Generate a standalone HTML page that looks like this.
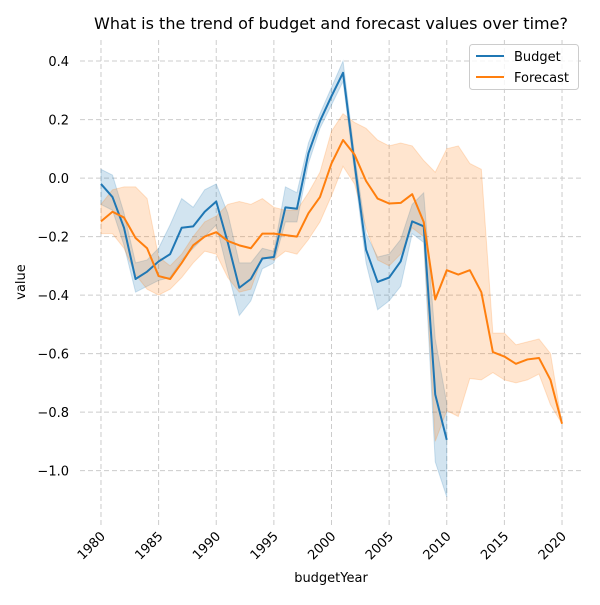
<!DOCTYPE html>
<html><head><meta charset="utf-8"><style>
body{margin:0;background:#fff;font-family:"Liberation Sans","DejaVu Sans",sans-serif}
svg text{font-family:"DejaVu Sans","Liberation Sans",sans-serif}
</style></head><body>
<svg id="chart" width="600" height="600">
<text x="331" y="29" text-anchor="middle" font-size="16" fill="#000">What is the trend of budget and forecast values over time?</text>
<g id="grid"></g><g id="bands"></g><g id="lines"></g><g id="axes"></g>
<text x="331" y="582" text-anchor="middle" font-size="13">budgetYear</text>
<text transform="translate(25,282) rotate(-90)" text-anchor="middle" font-size="13">value</text>
<g>
<rect x="469.5" y="44.5" width="109" height="45" rx="3" fill="#fff" fill-opacity="0.8" stroke="#ccc"/>
<line x1="476" y1="56" x2="504" y2="56" stroke="#1f77b4" stroke-width="2"/>
<text x="514" y="61" font-size="13">Budget</text>
<line x1="476" y1="77" x2="504" y2="77" stroke="#ff7f0e" stroke-width="2"/>
<text x="514" y="82" font-size="13">Forecast</text>
</g>
</svg>
<script>
const budgetYears=[1980,1981,1982,1983,1984,1985,1986,1987,1988,1989,1990,1991,1992,1993,1994,1995,1996,1997,1998,1999,2000,2001,2002,2003,2004,2005,2006,2007,2008,2009,2010];
const budgetValues=[-0.02,-0.065,-0.17,-0.345,-0.32,-0.285,-0.26,-0.17,-0.165,-0.115,-0.08,-0.22,-0.375,-0.345,-0.275,-0.27,-0.1,-0.105,0.085,0.195,0.28,0.36,0.05,-0.245,-0.355,-0.34,-0.285,-0.148,-0.165,-0.74,-0.895];
const budgetUpper=[0.03,0.01,-0.12,-0.29,-0.28,-0.24,-0.16,-0.07,-0.1,-0.04,-0.02,-0.12,-0.29,-0.29,-0.24,-0.25,-0.03,-0.05,0.12,0.22,0.31,0.40,0.08,-0.19,-0.27,-0.26,-0.21,-0.09,-0.05,-0.55,-0.77];
const budgetLower=[-0.09,-0.11,-0.23,-0.39,-0.37,-0.35,-0.34,-0.28,-0.24,-0.2,-0.16,-0.32,-0.47,-0.42,-0.31,-0.29,-0.15,-0.15,0.05,0.17,0.25,0.33,0.02,-0.29,-0.45,-0.42,-0.37,-0.19,-0.22,-0.97,-1.09];
const forecastYears=[1980,1981,1982,1983,1984,1985,1986,1987,1988,1989,1990,1991,1992,1993,1994,1995,1996,1997,1998,1999,2000,2001,2002,2003,2004,2005,2006,2007,2008,2009,2010,2011,2012,2013,2014,2015,2016,2017,2018,2019,2020];
const forecastValues=[-0.148,-0.115,-0.135,-0.205,-0.24,-0.335,-0.345,-0.29,-0.23,-0.2,-0.185,-0.215,-0.23,-0.24,-0.19,-0.19,-0.195,-0.2,-0.12,-0.065,0.05,0.13,0.08,-0.01,-0.07,-0.087,-0.085,-0.055,-0.15,-0.415,-0.315,-0.33,-0.315,-0.39,-0.595,-0.61,-0.635,-0.62,-0.615,-0.69,-0.84];
const forecastUpper=[-0.09,-0.04,-0.03,-0.03,-0.07,-0.27,-0.3,-0.26,-0.2,-0.15,-0.13,-0.09,-0.08,-0.09,-0.07,-0.1,-0.11,-0.11,-0.05,0.02,0.16,0.22,0.19,0.17,0.13,0.11,0.12,0.11,0.06,0.02,0.10,0.11,0.05,0.03,-0.53,-0.53,-0.57,-0.56,-0.55,-0.6,-0.84];
const forecastLower=[-0.19,-0.19,-0.24,-0.33,-0.38,-0.4,-0.38,-0.34,-0.29,-0.25,-0.26,-0.34,-0.39,-0.38,-0.27,-0.28,-0.25,-0.26,-0.21,-0.15,-0.06,0.04,-0.02,-0.17,-0.28,-0.3,-0.26,-0.17,-0.2,-0.9,-0.795,-0.815,-0.685,-0.69,-0.665,-0.69,-0.7,-0.69,-0.67,-0.775,-0.84];
const xTicks=[1980,1985,1990,1995,2000,2005,2010,2015,2020];
const yTicks=[0.4,0.2,0.0,-0.2,-0.4,-0.6,-0.8,-1.0];
const yTickLabels=["0.4","0.2","0.0","−0.2","−0.4","−0.6","−0.8","−1.0"];

const NS="http://www.w3.org/2000/svg";
const X0=80,X1=583,Y0=40,Y1=525,xMin=1978.18,xMax=2021.82,yMax=0.472,yMin=-1.186;
function sx(v){return X0+(v-xMin)/(xMax-xMin)*(X1-X0);}
function sy(v){return Y0+(yMax-v)/(yMax-yMin)*(Y1-Y0);}
function mk(tag,parent,attrs){const e=document.createElementNS(NS,tag);for(const k in attrs)e.setAttribute(k,attrs[k]);document.getElementById(parent).appendChild(e);return e;}
xTicks.forEach((t,i)=>{
  const g=mk('line','grid',{x1:sx(t),x2:sx(t),y1:Y0,y2:Y1,stroke:'#ccc','stroke-dasharray':'5,3'});
  
  
  const tx=mk('text','axes',{'font-size':13,'text-anchor':'end',transform:`translate(${sx(t)+5},${Y1+12}) rotate(-45)`});
  tx.textContent=t;
  
  
});
yTicks.forEach((t,i)=>{
  const g=mk('line','grid',{x1:X0,x2:X1,y1:sy(t),y2:sy(t),stroke:'#ccc','stroke-dasharray':'5,3'});
  
  
  const tx=mk('text','axes',{'font-size':13,'text-anchor':'end',x:69,y:sy(t)+5});
  tx.textContent=yTickLabels[i];
  
  
});
function band(xs,lo,hi,color,name){
  let d='M'+xs.map((x,i)=>sx(x)+','+sy(hi[i])).join('L');
  for(let i=xs.length-1;i>=0;i--)d+='L'+sx(xs[i])+','+sy(lo[i]);
  const p=mk('path','bands',{d:d+'Z',fill:color,'fill-opacity':0.2,stroke:color,'stroke-opacity':0.2});
  
  
}
function line(xs,ys,color,name){
  const p=mk('polyline','lines',{points:xs.map((x,i)=>sx(x)+','+sy(ys[i])).join(' '),fill:'none',stroke:color,'stroke-width':2,'stroke-linejoin':'round'});
  
  
}
band(budgetYears,budgetLower,budgetUpper,'#1f77b4','budget-confidence-band');
band(forecastYears,forecastLower,forecastUpper,'#ff7f0e','forecast-confidence-band');
line(budgetYears,budgetValues,'#1f77b4','budget-line');
line(forecastYears,forecastValues,'#ff7f0e','forecast-line');
</script>
</body></html>
